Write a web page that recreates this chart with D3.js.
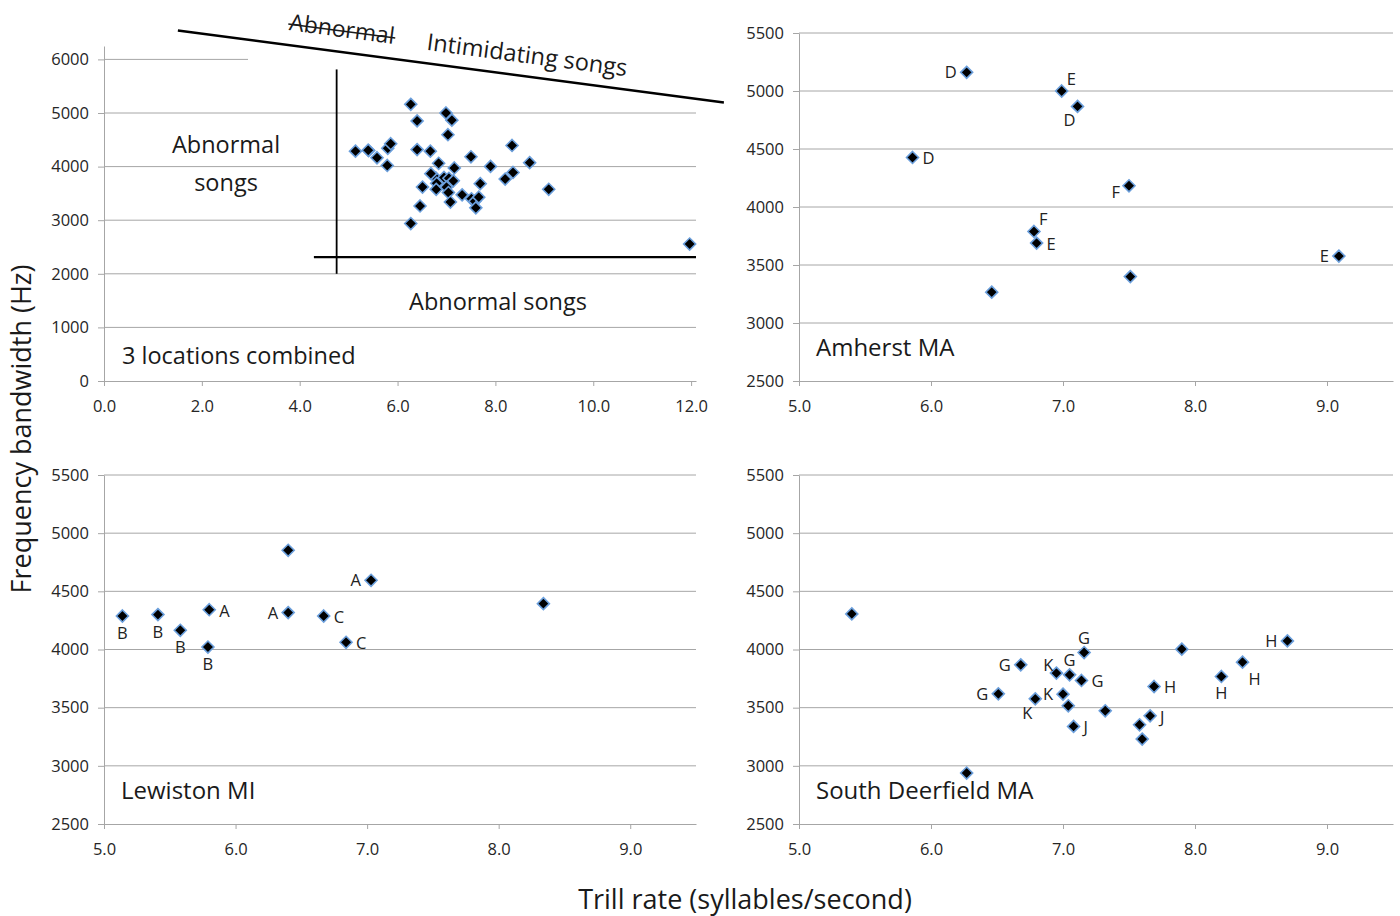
<!DOCTYPE html>
<html lang="en">
<head>
<meta charset="UTF-8">
<title>Trill rate vs frequency bandwidth</title>
<script src="https://cdn.jsdelivr.net/npm/d3@7"></script>
<style>
  body { margin: 0; background: #fff; }
  svg text { font-family: "Open Sans", sans-serif; fill: #1a1a1a; }
  .tick text { font-size: 16.5px; fill: #262626; }
  .axis path, .axis line { stroke: #a6a6a6; }
  .grid line { stroke: #a6a6a6; stroke-width: 1; }
  .lbl { font-size: 16.5px; fill: #222; }
</style>
</head>
<body>
<svg id="chart" width="1400" height="916"></svg>
<script>

// each point: [trill rate, bandwidth, song type]
const lewiston = [
  [5.14, 4288, "B"], [5.41, 4300, "B"], [5.58, 4165, "B"], [5.80, 4342, "A"],
  [5.79, 4021, "B"], [6.40, 4853, ""], [6.40, 4317, "A"], [6.67, 4288, "C"],
  [6.84, 4062, "C"], [7.03, 4595, "A"], [8.34, 4394, ""]
];
const amherst = [
  [6.27, 5161, "D"], [6.99, 5000, "E"], [7.11, 4867, "D"], [5.86, 4427, "D"],
  [7.50, 4183, "F"], [6.78, 3789, "F"], [6.80, 3689, "E"], [6.46, 3266, ""],
  [7.51, 3400, ""], [9.09, 3577, "E"]
];
const southDeerfield = [
  [5.40, 4306, ""], [6.27, 2938, ""], [7.16, 3974, "G"], [6.68, 3868, "G"],
  [6.95, 3797, "K"], [7.05, 3782, "G"], [7.14, 3734, "G"], [7.90, 4003, ""],
  [8.70, 4074, "H"], [8.36, 3891, "H"], [8.20, 3768, "H"], [7.69, 3682, "H"],
  [6.51, 3619, "G"], [6.79, 3576, "K"], [7.00, 3616, "K"], [7.04, 3516, ""],
  [7.32, 3473, ""], [7.08, 3339, "J"], [7.58, 3353, ""], [7.66, 3430, "J"],
  [7.60, 3230, ""]
];
// only visible in the combined panel
const combinedExtra = [[11.97, 2555, ""]];

const combinedXTicks = [0, 2, 4, 6, 8, 10, 12];
const combinedYTicks = [0, 1000, 2000, 3000, 4000, 5000, 6000];
const siteXTicks = [5, 6, 7, 8, 9];
const siteYTicks = [2500, 3000, 3500, 4000, 4500, 5000, 5500];

// annotation lines on the combined panel, in data units
const slopeLine = [[1.51, 6540], [12.67, 5198]];
const rateCutoff = [[4.755, 2000], [4.755, 5813]];
const bandCutoff = [[4.29, 2310], [12.1, 2310]];

// where each song label sits relative to its point
const lewistonSide = ["B","B","B","R","B","","L","R","R","L",""];
const amherstSide = ["L","AR","BL","R","LB","AR","R","","","L"];
const southSide = ["","","A","L","AL","A","R","","L","BR","B","R","L","BL","L","","","R","","R",""];

const sideFmt = {
  L:  {dx: -10, dy: 6, a: "end"},
  R:  {dx: 10, dy: 7, a: "start"},
  A:  {dx: 0, dy: -9, a: "middle"},
  B:  {dx: 0, dy: 23, a: "middle"},
  AR: {dx: 5, dy: -6, a: "start"},
  AL: {dx: -3, dy: -2, a: "end"},
  BL: {dx: -8, dy: 20, a: "middle"},
  LB: {dx: -9, dy: 12, a: "end"},
  BR: {dx: 12, dy: 23, a: "middle"}
};

const svg = d3.select("#chart");
const diamond = "M0,-6L6,0L0,6L-6,0Z";

function panel(o) {
  const x = d3.scaleLinear().domain(o.xDomain).range([o.left, o.right]);
  const y = d3.scaleLinear().domain(o.yDomain).range([o.bottom, o.top]);
  const g = svg.append("g");

  g.append("g").attr("class", "grid")
    .selectAll("line").data(o.yTicks.slice(1)).enter().append("line")
    .attr("x1", o.left).attr("x2", o.right)
    .attr("y1", d => y(d)).attr("y2", d => y(d));

  if (o.before) o.before(g, x, y);

  g.append("g").attr("class", "axis")
    .attr("transform", "translate(" + o.left + ",0)")
    .call(d3.axisLeft(y).tickValues(o.yTicks).tickFormat(d3.format("d"))
      .tickSizeInner(6).tickSizeOuter(0).tickPadding(9));

  g.append("g").attr("class", "axis")
    .attr("transform", "translate(0," + o.bottom + ")")
    .call(d3.axisBottom(x).tickValues(o.xTicks).tickFormat(d3.format(".1f"))
      .tickSizeInner(5).tickSizeOuter(0).tickPadding(14));

  g.selectAll(".axis .domain").attr("stroke", "#a6a6a6");

  if (o.after) o.after(g, x, y);

  g.selectAll("path.pt").data(o.data).enter().append("path")
    .attr("class", "pt")
    .attr("d", diamond)
    .attr("transform", d => "translate(" + x(d[0]) + "," + y(d[1]) + ")")
    .attr("fill", "#000")
    .attr("stroke", "#6b9fdc")
    .attr("stroke-width", 1.6);

  if (o.sides) {
    g.selectAll("text.lbl").data(o.data.filter((d, i) => d[2] && o.sides[i]).map(d => [d, o.sides[o.data.indexOf(d)]]))
      .enter().append("text")
      .attr("class", "lbl")
      .attr("x", d => x(d[0][0]) + sideFmt[d[1]].dx)
      .attr("y", d => y(d[0][1]) + sideFmt[d[1]].dy)
      .attr("text-anchor", d => sideFmt[d[1]].a)
      .text(d => d[0][2]);
  }

  if (o.title) {
    g.append("text")
      .attr("x", o.left + 17)
      .attr("y", o.bottom - 25)
      .style("font-size", "24px")
      .text(o.title);
  }
  return {x, y};
}

// combined panel with the region notes
panel({
  xDomain: [0, 12.1], yDomain: [0, 6250],
  left: 104, right: 696, top: 46, bottom: 381,
  xTicks: combinedXTicks, yTicks: combinedYTicks,
  data: lewiston.concat(amherst, southDeerfield, combinedExtra),
  before: (g, x, y) => {
    // text box from the source covers most of the top gridline
    g.append("rect").attr("x", 248).attr("y", 40).attr("width", 460).attr("height", 26).attr("fill", "#fff");
  },
  after: (g, x, y) => {
    const line = d3.line().x(d => x(d[0])).y(d => y(d[1]));
    g.append("path").attr("d", line(slopeLine)).attr("stroke", "#000").attr("stroke-width", 2.5).attr("fill", "none");
    g.append("path").attr("d", line(rateCutoff)).attr("stroke", "#000").attr("stroke-width", 1.8).attr("fill", "none");
    g.append("path").attr("d", line(bandCutoff)).attr("stroke", "#000").attr("stroke-width", 2.2).attr("fill", "none");

    const ang = Math.atan2(y(slopeLine[1][1]) - y(slopeLine[0][1]), x(slopeLine[1][0]) - x(slopeLine[0][0])) * 180 / Math.PI;

    const ab = g.append("g").attr("transform", "translate(341,37) rotate(" + ang + ")");
    const abTxt = ab.append("text").attr("text-anchor", "middle").style("font-size", "23px").text("Abnormal");
    const w = abTxt.node().getComputedTextLength();
    ab.append("line").attr("x1", -w / 2 - 1).attr("x2", w / 2 + 1).attr("y1", -6).attr("y2", -6)
      .attr("stroke", "#1a1a1a").attr("stroke-width", 1.5);

    g.append("g").attr("transform", "translate(526,63) rotate(" + ang + ")")
      .append("text").attr("text-anchor", "middle").style("font-size", "23.5px").text("Intimidating songs");

    g.append("text").attr("x", 226).attr("y", 153).attr("text-anchor", "middle").style("font-size", "23.5px").text("Abnormal");
    g.append("text").attr("x", 226).attr("y", 191).attr("text-anchor", "middle").style("font-size", "23.5px").text("songs");
    g.append("text").attr("x", 498).attr("y", 310).attr("text-anchor", "middle").style("font-size", "23.5px").text("Abnormal songs");
    g.append("text").attr("x", 122).attr("y", 364).style("font-size", "23.5px").text("3 locations combined");
  }
});

panel({
  xDomain: [5, 9.5], yDomain: [2500, 5500],
  left: 799, right: 1393, top: 33, bottom: 381,
  xTicks: siteXTicks, yTicks: siteYTicks,
  data: amherst, sides: amherstSide, title: "Amherst MA"
});

panel({
  xDomain: [5, 9.5], yDomain: [2500, 5500],
  left: 104, right: 696, top: 475, bottom: 824,
  xTicks: siteXTicks, yTicks: siteYTicks,
  data: lewiston, sides: lewistonSide, title: "Lewiston MI"
});

panel({
  xDomain: [5, 9.5], yDomain: [2500, 5500],
  left: 799, right: 1393, top: 475, bottom: 824,
  xTicks: siteXTicks, yTicks: siteYTicks,
  data: southDeerfield, sides: southSide, title: "South Deerfield MA"
});

// shared axis titles
svg.append("text")
  .attr("transform", "translate(31,429) rotate(-90)")
  .attr("text-anchor", "middle")
  .style("font-size", "27px")
  .text("Frequency bandwidth (Hz)");

svg.append("text")
  .attr("x", 745).attr("y", 909)
  .attr("text-anchor", "middle")
  .style("font-size", "27px")
  .text("Trill rate (syllables/second)");

</script>
</body>
</html>
